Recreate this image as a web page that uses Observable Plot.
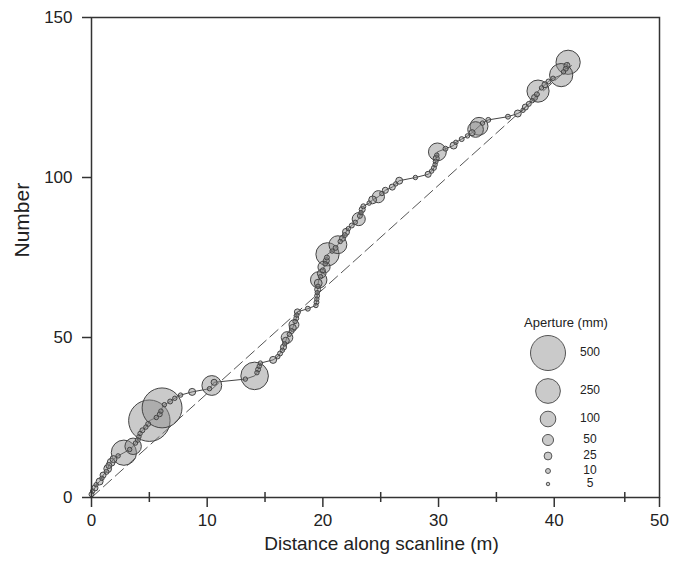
<!DOCTYPE html>
<html><head><meta charset="utf-8">
<script src="https://cdn.jsdelivr.net/npm/d3@7"></script>
<script src="https://cdn.jsdelivr.net/npm/@observablehq/plot@0.6"></script>
<style>
body{margin:0;background:#fff;}
svg{font-family:"Liberation Sans",Arial,Helvetica,sans-serif;}
</style>
</head><body><div id="chart"></div>
<script>
// Distance along scanline (m) of each successive fracture (cumulative number = position in list)
const distance = [
  0.0,0.1,0.3,0.4,0.7,0.9,1.0,1.3,1.4,1.5,
  1.7,1.9,2.3,2.8,3.3,3.6,3.8,4.0,4.1,4.2,
  4.4,4.7,4.9,5.0,5.6,5.9,6.0,6.1,6.3,6.8,
  7.2,7.7,8.7,10.2,10.4,10.6,13.3,14.1,14.3,14.4,
  14.5,14.6,15.7,16.1,16.3,16.5,16.6,16.7,16.8,16.9,
  17.1,17.3,17.4,17.5,17.6,17.7,17.75,17.8,18.7,19.4,
  19.45,19.48,19.5,19.52,19.55,19.58,19.6,19.64,19.8,19.9,
  20.0,20.1,20.2,20.3,20.35,20.4,20.8,21.1,21.3,21.5,
  21.7,21.9,22.0,22.2,22.5,22.8,23.1,23.2,23.3,23.4,
  23.5,24.0,24.3,24.8,25.1,25.4,26.0,26.3,26.6,28.0,
  29.1,29.4,29.6,29.7,29.75,29.8,29.85,29.9,30.6,31.3,
  31.5,32.0,32.5,32.9,33.2,33.5,33.8,34.3,36.0,36.85,
  37.3,37.5,37.8,38.1,38.3,38.5,38.6,38.9,39.2,39.5,
  39.9,40.6,40.8,41.0,41.1,41.2
];
// Aperture (mm) of each fracture
const aperture = [
  10,8,15,8,20,8,15,10,25,15,
  25,20,8,260,8,110,8,10,8,8,
  10,8,10,700,8,10,8,650,8,10,
  8,8,20,8,160,15,8,310,8,10,
  8,8,20,8,10,8,15,8,20,55,
  8,10,20,40,8,10,8,15,10,8,
  10,8,10,8,15,8,25,110,8,30,
  10,60,8,15,10,220,8,10,130,8,
  15,10,20,8,10,8,70,10,8,15,
  10,8,25,60,8,15,15,8,20,8,
  15,8,10,8,10,15,8,130,10,20,
  8,10,8,15,100,130,8,10,10,20,
  8,15,10,8,15,10,200,8,15,10,
  8,220,8,10,15,240
];
// Dashed reference line (uniform spacing)
const refDistance = [0, 41.5];
const refNumber = [0, 135];
// Axis ticks
const xMajorTicks = [0, 10, 20, 30, 40, 49.1];
const xMajorLabels = ["0", "10", "20", "30", "40", "50"];
const xMinorTicks = [5, 15, 25, 35, 46.1];
const yTicks = [0, 50, 100, 150];
// Legend
const legendValues = [500, 250, 100, 50, 25, 10, 5];

const data = distance.map((x, i) => ({x, n: i + 1, a: aperture[i]}));
const ref = refDistance.map((x, i) => ({x, n: refNumber[i]}));

const plot = Plot.plot({
  width: 681, height: 566,
  marginLeft: 91, marginRight: 22, marginTop: 17, marginBottom: 69,
  style: {fontFamily: "'Liberation Sans', Arial, sans-serif", fontSize: "17px", background: "#fff", color: "#222"},
  x: {domain: [0, 49.1]},
  y: {domain: [0, 150]},
  r: {type: "sqrt", domain: [0, 500], range: [0, 17.5]},
  marks: [
    Plot.line(ref, {x: "x", y: "n", stroke: "#555", strokeWidth: 1, strokeDasharray: "11,5"}),
    Plot.line(data, {x: "x", y: "n", stroke: "#444", strokeWidth: 1}),
    Plot.dot(data, {x: "x", y: "n", r: "a", fill: "#8a8a8a", fillOpacity: 0.45, stroke: "#444", strokeWidth: 1}),
    Plot.frame({stroke: "#333", strokeWidth: 1.5}),
    Plot.axisY({ticks: yTicks, tickSize: 9, tickPadding: 10, label: null, stroke: "#333", strokeWidth: 1.5}),
    Plot.axisX({ticks: xMajorTicks, tickSize: 10, tickPadding: 6, label: null, stroke: "#333", strokeWidth: 1.5,
      tickFormat: d => xMajorLabels[xMajorTicks.indexOf(d)]}),
    Plot.axisX({ticks: xMinorTicks, tickSize: 10, dy: -5, label: null, stroke: "#333", strokeWidth: 1.5,
      tickFormat: () => ""}),
    Plot.text(["Number"], {frameAnchor: "left", dx: -69, rotate: -90, fontSize: 21, fill: "#222"}),
    Plot.text(["Distance along scanline (m)"], {frameAnchor: "bottom", dx: 6, dy: 52, fontSize: 19, fill: "#222"})
  ]
});

// Aperture legend drawn with the plot's own r scale
const rScale = plot.scale("r");
const legendLayout = {titleX: 566, titleY: 324, cx: 548, labelX: 590, cy: [353, 391, 419, 440, 456, 471, 484]};
const g = d3.select(plot).append("g").attr("font-family", "'Liberation Sans', Arial, sans-serif").attr("font-size", 12).attr("fill", "#222");
g.append("text").attr("x", legendLayout.titleX).attr("y", legendLayout.titleY).attr("text-anchor", "middle")
  .attr("dominant-baseline", "middle").attr("font-size", 13).text("Aperture (mm)");
legendValues.forEach((v, i) => {
  g.append("circle").attr("cx", legendLayout.cx).attr("cy", legendLayout.cy[i]).attr("r", rScale.apply(v))
    .attr("fill", "#8a8a8a").attr("fill-opacity", 0.45).attr("stroke", "#555").attr("stroke-width", 1);
  g.append("text").attr("x", legendLayout.labelX).attr("y", legendLayout.cy[i]).attr("text-anchor", "middle")
    .attr("dominant-baseline", "middle").text(v);
});

document.getElementById("chart").appendChild(plot);
</script>
</body></html>
